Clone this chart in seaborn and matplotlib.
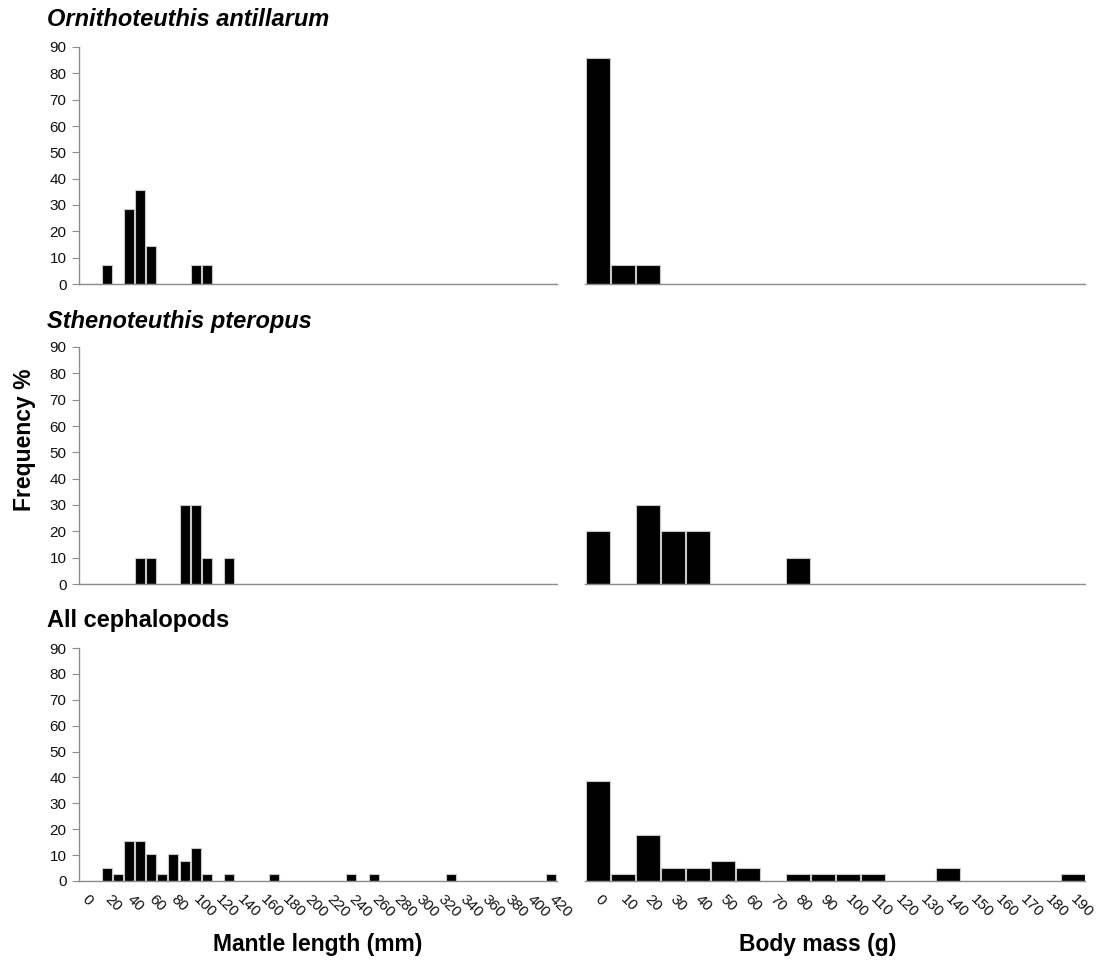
import matplotlib
matplotlib.use("Agg")
import matplotlib.pyplot as plt
import seaborn as sns
import pandas as pd

sns.set_theme(style="white")
plt.rcParams["font.family"] = ["Liberation Sans", "DejaVu Sans"]
plt.rcParams["text.color"] = "black"

# ---- data ----
ml_classes = list(range(0, 430, 10))    # mantle length classes (mm)
bm_classes = list(range(0, 200, 10))    # body mass classes (g)

# Ornithoteuthis antillarum
orn_ml = [0, 0, 7.1, 0, 28.6, 35.7, 14.3, 0, 0, 0, 7.1, 7.1] + [0] * 31
orn_bm = [85.7, 7.1, 7.1] + [0] * 17

# Sthenoteuthis pteropus
sth_ml = [0, 0, 0, 0, 0, 10, 10, 0, 0, 30, 30, 10, 0, 10] + [0] * 29
sth_bm = [20, 0, 30, 20, 20, 0, 0, 0, 10] + [0] * 11

# All cephalopods
all_ml = [0, 0, 5.1, 2.6, 15.4, 15.4, 10.3, 2.6, 10.3, 7.7, 12.8, 2.6, 0, 2.6,
          0, 0, 0, 2.6, 0, 0, 0, 0, 0, 0, 2.6, 0, 2.6, 0, 0, 0, 0, 0, 0, 2.6,
          0, 0, 0, 0, 0, 0, 0, 0, 2.6]
all_bm = [38.5, 2.6, 17.9, 5.1, 5.1, 7.7, 5.1, 0, 2.6, 2.6, 2.6, 2.6, 0, 0,
          5.1, 0, 0, 0, 0, 2.6]

titles = ["Ornithoteuthis antillarum", "Sthenoteuthis pteropus", "All cephalopods"]
title_italic = [True, True, False]
ml_series = [orn_ml, sth_ml, all_ml]
bm_series = [orn_bm, sth_bm, all_bm]
yticks = list(range(0, 100, 10))

# ---- layout (pixel-based) ----
W, H = 1100, 965
fig = plt.figure(figsize=(W / 100, H / 100), dpi=100)

rows_px = [(47, 284), (347, 584), (648, 881)]   # (top y of 90, y of 0)
left_x = (79, 557)
right_x = (585, 1085)
title_y = [26, 328, 627]

spine_col = "#8c8c8c"
tick_fs = 11
tick_col = "#111111"

def add_ax(x0, x1, yt, yb):
    return fig.add_axes([x0 / W, 1 - yb / H, (x1 - x0) / W, (yb - yt) / H])

for r in range(3):
    yt, yb = rows_px[r]
    # left: mantle length
    axl = add_ax(left_x[0], left_x[1], yt, yb)
    dfl = pd.DataFrame({"cls": [str(c) for c in ml_classes], "freq": ml_series[r]})
    sns.barplot(data=dfl, x="cls", y="freq", ax=axl, color="black",
                width=0.9, edgecolor="#c8c8c8", linewidth=0.8, saturation=1)
    axl.set_xlim(-0.5, len(ml_classes) - 0.5)
    axl.set_ylim(0, 90)
    axl.set_yticks(yticks)
    axl.set_yticklabels([str(v) for v in yticks], fontsize=tick_fs, color=tick_col)
    axl.tick_params(axis="y", length=5, width=0.8, color=spine_col, pad=4, left=True)
    axl.set_xlabel("")
    axl.set_ylabel("")
    for s in ["top", "right"]:
        axl.spines[s].set_visible(False)
    for s in ["left", "bottom"]:
        axl.spines[s].set_color(spine_col)
        axl.spines[s].set_linewidth(1.0)
    idx = list(range(0, len(ml_classes), 2))
    axl.set_xticks(idx)
    if r == 2:
        axl.set_xticklabels([str(ml_classes[i]) for i in idx], rotation=-45,
                            ha="left", va="center", rotation_mode="anchor",
                            fontsize=tick_fs, color=tick_col)
        axl.tick_params(axis="x", length=0, pad=12)
    else:
        axl.set_xticklabels([])
        axl.tick_params(axis="x", length=0)

    # right: body mass
    axr = add_ax(right_x[0], right_x[1], yt, yb)
    dfr = pd.DataFrame({"cls": [str(c) for c in bm_classes], "freq": bm_series[r]})
    sns.barplot(data=dfr, x="cls", y="freq", ax=axr, color="black",
                width=0.96, edgecolor="#c8c8c8", linewidth=0.8, saturation=1)
    axr.set_xlim(-0.5, len(bm_classes) - 0.5)
    axr.set_ylim(0, 90)
    axr.set_yticks([])
    axr.set_xlabel("")
    axr.set_ylabel("")
    for s in ["top", "right", "left"]:
        axr.spines[s].set_visible(False)
    axr.spines["bottom"].set_color(spine_col)
    axr.spines["bottom"].set_linewidth(1.0)
    axr.set_xticks(range(len(bm_classes)))
    if r == 2:
        axr.set_xticklabels([str(c) for c in bm_classes], rotation=-45,
                            ha="left", va="center", rotation_mode="anchor",
                            fontsize=tick_fs, color=tick_col)
        axr.tick_params(axis="x", length=0, pad=12)
    else:
        axr.set_xticklabels([])
        axr.tick_params(axis="x", length=0)

    fig.text(47 / W, 1 - title_y[r] / H, titles[r], fontsize=17, fontweight="bold",
             fontstyle="italic" if title_italic[r] else "normal",
             ha="left", va="baseline", color="black")

fig.text(25 / W, 1 - 440 / H, "Frequency %", rotation=90, fontsize=16.5,
         fontweight="bold", ha="center", va="center", color="black")
fig.text(318 / W, 1 - 945 / H, "Mantle length (mm)", fontsize=16.5,
         fontweight="bold", ha="center", va="center", color="black")
fig.text(818 / W, 1 - 945 / H, "Body mass (g)", fontsize=16.5,
         fontweight="bold", ha="center", va="center", color="black")

fig.savefig("out.png", dpi=100, facecolor="white")
